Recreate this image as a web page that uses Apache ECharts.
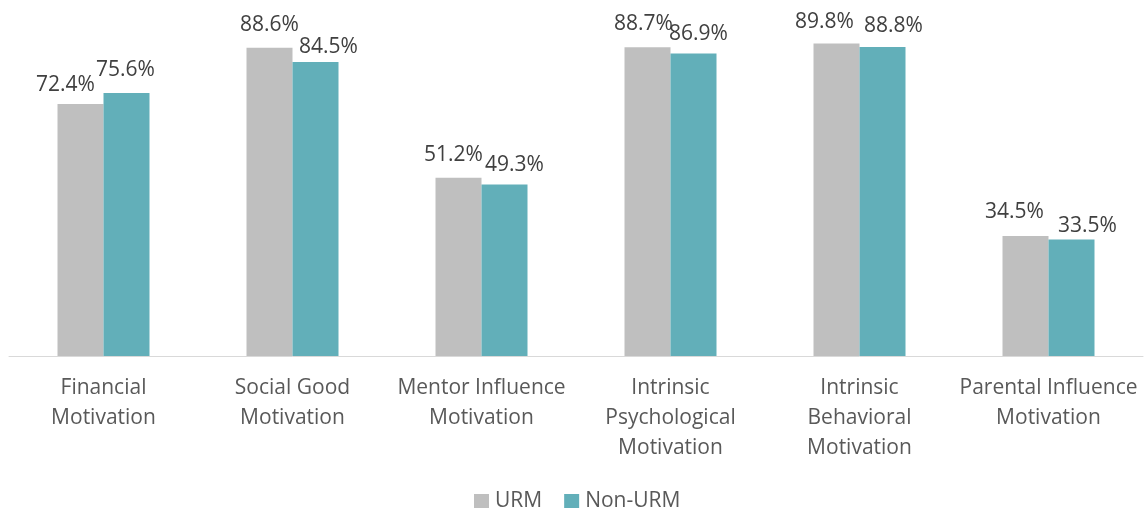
<!DOCTYPE html>
<html>
<head>
<meta charset="utf-8">
<script src="https://cdn.jsdelivr.net/npm/echarts@6/dist/echarts.min.js"></script>
<style>
html,body{margin:0;padding:0;background:#fff;}
#c{width:1146px;height:508px;}
</style>
</head>
<body>
<div id="c"></div>
<script>
var categories = ['Financial\nMotivation', 'Social Good\nMotivation', 'Mentor Influence\nMotivation', 'Intrinsic\nPsychological\nMotivation', 'Intrinsic\nBehavioral\nMotivation', 'Parental Influence\nMotivation'];
var seriesNames = ['URM', 'Non-URM'];
var urm = [72.4, 88.6, 51.2, 88.7, 89.8, 34.5];
var nonUrm = [75.6, 84.5, 49.3, 86.9, 88.8, 33.5];

// label placement nudges (style, not data)
var urmLabelOffsets = [[-15,-4],[0,-7],[-5,-7],[-4,-8],[-12,-6],[-11,-8]];
var nonUrmLabelOffsets = [[-1,-7],[13,1],[10,-4],[5,-4],[11,-5],[16,2]];

function build(values, offsets) {
  return values.map(function (v, i) {
    return { value: v, label: { offset: offsets[i] } };
  });
}

var font = 'Open Sans';
var chart = echarts.init(document.getElementById('c'), null, {renderer: 'canvas'});
chart.setOption({
  animation: false,
  backgroundColor: '#ffffff',
  grid: { left: 9, right: 3, top: 8, bottom: 152, containLabel: false },
  legend: {
    data: seriesNames,
    left: 469,
    top: 486,
    itemWidth: 15,
    itemHeight: 15,
    itemGap: 22,
    icon: 'rect',
    textStyle: { fontFamily: font, fontSize: 21, color: '#595959', padding: [0,0,0,1] }
  },
  xAxis: {
    type: 'category',
    data: categories,
    axisLine: { lineStyle: { color: '#d9d9d9', width: 1 } },
    axisTick: { show: false },
    axisLabel: { fontFamily: font, fontSize: 21, color: '#595959', lineHeight: 30, margin: 17, interval: 0 }
  },
  yAxis: {
    type: 'value', min: 0, max: 100, show: false,
    splitLine: { show: false }
  },
  series: [
    {
      name: seriesNames[0], type: 'bar', data: build(urm, urmLabelOffsets),
      barWidth: 46, barGap: '0%',
      itemStyle: { color: '#BFBFBF' },
      label: { show: true, position: 'top', distance: 5, fontFamily: font, fontSize: 21, color: '#404040', formatter: function(p){ return p.value.toFixed(1) + '%'; } }
    },
    {
      name: seriesNames[1], type: 'bar', data: build(nonUrm, nonUrmLabelOffsets),
      barWidth: 46, barGap: '0%',
      itemStyle: { color: '#62AFB9' },
      label: { show: true, position: 'top', distance: 5, fontFamily: font, fontSize: 21, color: '#404040', formatter: function(p){ return p.value.toFixed(1) + '%'; } }
    }
  ]
});
</script>
</body>
</html>
